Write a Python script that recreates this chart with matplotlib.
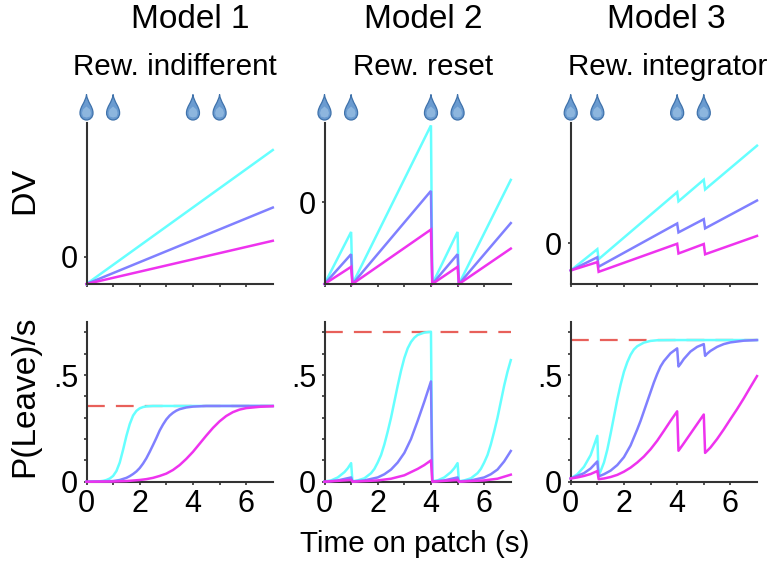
import matplotlib
matplotlib.use('Agg')
import matplotlib.pyplot as plt
from matplotlib.path import Path
from matplotlib.patches import PathPatch
from matplotlib.transforms import Affine2D

plt.rcParams['font.family'] = ['Liberation Sans', 'DejaVu Sans']

models = ['Model 1', 'Model 2', 'Model 3']
subtitles = ['Rew. indifferent', 'Rew. reset', 'Rew. integrator']
drop_times = [0, 1, 4, 5]
cyan = '#66FFFF'
blue = '#8080FF'
magenta = '#EE33EE'
dash_red = '#E8605A'
spine_col = '#333333'

# decision variable
dv1_t = [0, 7]
dv1_cyan = [-1, 3.96]
dv1_blue = [-1, 1.83]
dv1_mag = [-1, 0.6]
dv1_lim = (-1, 4.96)

dv2_t = [0, 1, 1.05, 4, 4.05, 5, 5.05, 7]
dv2_cyan = [-3.05, -1.11, -3.05, 2.86, -3.05, -1.11, -3.05, 0.83]
dv2_blue = [-3.05, -1.94, -3.05, 0.42, -3.05, -1.94, -3.05, -0.78]
dv2_mag = [-3.05, -2.41, -3.05, -1.02, -3.05, -2.41, -3.05, -1.73]
dv2_lim = (-3.05, 2.95)

dv3_t = [0, 1, 1.05, 4, 4.05, 5, 5.05, 7]
dv3_cyan = [-1, -0.21, -0.58, 1.9, 1.56, 2.36, 2.0, 3.62]
dv3_blue = [-1, -0.51, -0.86, 0.74, 0.41, 0.9, 0.56, 1.59]
dv3_mag = [-1, -0.69, -1.05, -0.01, -0.37, -0.02, -0.4, 0.28]
dv3_lim = (-1.5, 4.46)

# P(Leave)/s
p1_thresh = 0.355
p1_cyan_t = [0, 0.5, 0.625, 0.75, 0.875, 1, 1.125, 1.25, 1.375, 1.5, 1.625, 1.75, 1.875, 2, 2.125, 2.25, 2.5, 7]
p1_cyan = [0, 0.002, 0.004, 0.008, 0.015, 0.027, 0.05, 0.09, 0.15, 0.215, 0.27, 0.31, 0.332, 0.344, 0.35, 0.353, 0.355, 0.355]
p1_blue_t = [0, 1, 1.25, 1.5, 1.625, 1.75, 1.875, 2, 2.125, 2.25, 2.375, 2.5, 2.625, 2.75, 2.875, 3, 3.125, 3.25,
             3.375, 3.5, 3.75, 4, 4.5, 7]
p1_blue = [0, 0.003, 0.008, 0.018, 0.026, 0.036, 0.048, 0.064, 0.085, 0.11, 0.14, 0.172, 0.205, 0.24, 0.268, 0.292, 0.31, 0.323,
           0.333, 0.34, 0.348, 0.352, 0.355, 0.355]
p1_mag_t = [0, 1, 1.5, 2, 2.25, 2.5, 2.75, 3, 3.25, 3.5, 3.75, 4, 4.25, 4.5, 4.75, 5, 5.25, 5.5, 5.75, 6, 6.5, 7]
p1_mag = [0, 0.001, 0.003, 0.008, 0.012, 0.018, 0.027, 0.038, 0.055, 0.078, 0.107, 0.14, 0.178, 0.216, 0.252, 0.283, 0.308,
          0.326, 0.338, 0.345, 0.351, 0.354]

p2_thresh = 0.703
p2_cyan_t = [0, 0.25, 0.5, 0.75, 0.875, 1, 1.05, 1.25, 1.5, 1.75, 1.875, 2, 2.125, 2.25, 2.375, 2.5, 2.625, 2.75, 2.875,
             3, 3.125, 3.25, 3.375, 3.5, 3.75, 4, 4.05, 4.25, 4.5, 4.75, 4.875, 5, 5.05, 5.25, 5.5, 5.75, 5.875,
             6, 6.125, 6.25, 6.375, 6.5, 6.625, 6.75, 6.875, 7]
p2_cyan = [0.001, 0.006, 0.02, 0.045, 0.063, 0.087, 0.002, 0.006, 0.016, 0.04, 0.06, 0.09, 0.125, 0.175, 0.235, 0.3, 0.375, 0.45, 0.52,
           0.58, 0.625, 0.655, 0.675, 0.688, 0.699, 0.703, 0.002, 0.006, 0.02, 0.045, 0.063, 0.087, 0.002, 0.006, 0.016, 0.04, 0.06,
           0.09, 0.125, 0.175, 0.235, 0.3, 0.375, 0.45, 0.515, 0.57]
p2_blue_t = [0, 0.5, 1, 1.05, 1.5, 2, 2.25, 2.5, 2.75, 3, 3.25, 3.5, 3.75, 4, 4.05, 4.5, 5, 5.05, 5.5, 6, 6.25, 6.5, 6.75, 7]
p2_blue = [0, 0.006, 0.02, 0.001, 0.006, 0.02, 0.035, 0.057, 0.09, 0.135, 0.2, 0.285, 0.375, 0.47, 0.001, 0.006, 0.02, 0.001,
           0.006, 0.02, 0.035, 0.057, 0.095, 0.144]
p2_mag_t = [0, 1, 1.05, 2, 2.5, 3, 3.5, 3.75, 4, 4.05, 5, 5.05, 6, 6.5, 7]
p2_mag = [0, 0.008, 0, 0.006, 0.014, 0.03, 0.06, 0.078, 0.1, 0, 0.008, 0, 0.006, 0.014, 0.033]

p3_thresh = 0.664
p3_cyan_t = [0, 0.25, 0.5, 0.75, 1, 1.05, 1.125, 1.25, 1.375, 1.5, 1.625, 1.75, 1.875, 2, 2.125, 2.25, 2.375, 2.5, 2.75, 3, 3.25, 4, 7]
p3_cyan = [0.015, 0.035, 0.07, 0.125, 0.215, 0.03, 0.05, 0.09, 0.15, 0.225, 0.305, 0.385, 0.455, 0.515, 0.56, 0.595, 0.62, 0.635,
           0.652, 0.66, 0.663, 0.664, 0.664]
p3_blue_t = [0, 0.5, 0.75, 1, 1.05, 1.25, 1.5, 1.75, 2, 2.25, 2.5, 2.625, 2.75, 2.875, 3, 3.125, 3.25, 3.375, 3.5, 3.75, 4, 4.05,
             4.125, 4.25, 4.5, 4.75, 5, 5.05, 5.125, 5.25, 5.5, 5.75, 6, 6.5, 7]
p3_blue = [0.015, 0.04, 0.062, 0.095, 0.025, 0.035, 0.052, 0.078, 0.115, 0.17, 0.245, 0.285, 0.33, 0.375, 0.42, 0.465, 0.505, 0.54,
           0.565, 0.602, 0.625, 0.54, 0.552, 0.575, 0.61, 0.632, 0.645, 0.59, 0.6, 0.613, 0.632, 0.645, 0.653, 0.661, 0.664]
p3_mag_t = [0, 0.25, 0.5, 0.75, 1, 1.05, 1.25, 1.5, 1.75, 2, 2.25, 2.5, 2.75, 3, 3.25, 3.5, 3.75, 4, 4.05, 4.25, 4.5, 4.75, 5, 5.05,
            5.25, 5.5, 5.75, 6, 6.25, 6.5, 6.75, 7]
p3_mag = [0.015, 0.02, 0.027, 0.036, 0.05, 0.012, 0.015, 0.022, 0.032, 0.047, 0.066, 0.09, 0.118, 0.152, 0.192, 0.238, 0.285, 0.33,
          0.145, 0.18, 0.225, 0.27, 0.315, 0.135, 0.16, 0.2, 0.245, 0.293, 0.34, 0.39, 0.443, 0.495]

dv_series = [
    (dv1_t, dv1_cyan, dv1_blue, dv1_mag, dv1_lim),
    (dv2_t, dv2_cyan, dv2_blue, dv2_mag, dv2_lim),
    (dv3_t, dv3_cyan, dv3_blue, dv3_mag, dv3_lim),
]
p_series = [
    (p1_cyan_t, p1_cyan, p1_blue_t, p1_blue, p1_mag_t, p1_mag, p1_thresh),
    (p2_cyan_t, p2_cyan, p2_blue_t, p2_blue, p2_mag_t, p2_mag, p2_thresh),
    (p3_cyan_t, p3_cyan, p3_blue_t, p3_blue, p3_mag_t, p3_mag, p3_thresh),
]

W, H = 780, 568
lefts = [86.5, 324.5, 570.7]
widths = [186.3, 186.3, 186.3]


def px_axes(fig, left, top, width, height):
    return fig.add_axes([left / W, 1 - (top + height) / H, width / W, height / H])


def style(ax):
    ax.spines['top'].set_visible(False)
    ax.spines['right'].set_visible(False)
    for s in ['left', 'bottom']:
        ax.spines[s].set_linewidth(1.5)
        ax.spines[s].set_color(spine_col)
    ax.set_xlim(0, 7)
    ax.set_xticks(range(7))
    ax.tick_params(length=2, width=1.2, color=spine_col, labelsize=22)
    ax.tick_params(axis='x', pad=3)
    ax.tick_params(axis='y', pad=4)


def draw_drop(fig, ax, t):
    # droplet outline in pixels, tip up, placed above the axes
    cx = ax.transData.transform((t, 0))[0]
    verts = [(0, 0), (1.0, 8), (6.5, 12), (6.5, 18.5), (6.5, 23), (3.2, 25.5), (0, 25.5),
             (-3.2, 25.5), (-6.5, 23), (-6.5, 18.5), (-6.5, 12), (-1.0, 8), (0, 0)]
    codes = [Path.MOVETO] + [Path.CURVE4] * 12
    to_px = Affine2D().scale(1, -1).translate(cx, H - 94.5)
    fig.add_artist(PathPatch(Path(verts, codes), facecolor='#6A9BD0', edgecolor='#3F72AB',
                             linewidth=0.9, transform=to_px))
    inner = [(0, 12), (3.5, 15), (4.5, 18.5), (3.5, 22), (0, 23), (-3.5, 22), (-4.5, 18.5), (-3.5, 15), (0, 12)]
    codes2 = [Path.MOVETO] + [Path.LINETO] * 7 + [Path.CLOSEPOLY]
    fig.add_artist(PathPatch(Path(inner, codes2), facecolor='#8DB6DE', edgecolor='none', transform=to_px))


def main():
    fig = plt.figure(figsize=(W / 100, H / 100), dpi=100)

    for i in range(3):
        t, c, b, m, lim = dv_series[i]
        ax = px_axes(fig, lefts[i], 123, widths[i], 161)
        style(ax)
        ax.plot(t, c, color=cyan, lw=1.8, clip_on=False, solid_joinstyle='miter')
        ax.plot(t, b, color=blue, lw=1.8, clip_on=False, solid_joinstyle='miter')
        ax.plot(t, m, color=magenta, lw=1.8, clip_on=False, solid_joinstyle='miter')
        ax.set_ylim(*lim)
        ax.set_yticks([0])
        ax.set_yticklabels(['0'])
        ax.set_xticklabels([])
        for d in drop_times:
            draw_drop(fig, ax, d)

        ct, c, bt, b, mt, m, thresh = p_series[i]
        ax = px_axes(fig, lefts[i], 321.7, widths[i], 160)
        style(ax)
        ax.plot([0, 7], [thresh, thresh], color=dash_red, lw=1.6, dashes=(8, 5), zorder=1)
        ax.plot(ct, c, color=cyan, lw=1.8, clip_on=False, zorder=2)
        ax.plot(bt, b, color=blue, lw=1.8, clip_on=False, zorder=3)
        ax.plot(mt, m, color=magenta, lw=1.8, clip_on=False, zorder=4)
        ax.set_ylim(0, 0.75)
        ax.set_yticks([0, 0.1, 0.2, 0.3, 0.4, 0.5, 0.6, 0.7])
        ax.set_yticklabels(['0', '', '', '', '', '.5', '', ''])
        ax.set_xticklabels(['0', '', '2', '', '4', '', '6'])

    title_x = [190, 423, 666]
    sub_x = [175, 423, 668]
    for i in range(3):
        fig.text(title_x[i] / W, 1 - 20 / H, models[i], fontsize=24, ha='center', va='center')
        fig.text(sub_x[i] / W, 1 - 67 / H, subtitles[i], fontsize=21.3, ha='center', va='center')
    fig.text(415 / W, 1 - 544 / H, 'Time on patch (s)', fontsize=21.3, ha='center', va='center')
    fig.text(25 / W, 1 - 190.5 / H, 'DV', fontsize=24.5, rotation=90, ha='center', va='center')
    fig.text(25 / W, 1 - 396 / H, 'P(Leave)/s', fontsize=24, rotation=90, ha='center', va='center')

    fig.savefig('out.png', dpi=100)


if __name__ == '__main__':
    main()
